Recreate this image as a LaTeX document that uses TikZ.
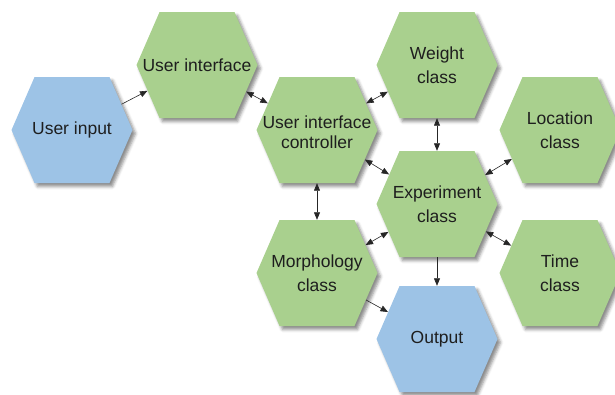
\documentclass[tikz,border=0pt]{standalone}
\usepackage{fontspec}
\setmainfont{Liberation Sans}
\usetikzlibrary{shapes.symbols,arrows.meta,shadows.blur}

\definecolor{hexgreen}{HTML}{A9D08E}
\definecolor{hexblue}{HTML}{9DC3E6}
\definecolor{inktext}{HTML}{1E1E1E}

\tikzset{
  hexbase/.style={shape=signal, signal to=east and west, signal pointer angle=133,
    minimum width=121pt, minimum height=106pt, inner sep=0pt, draw=none,
    blur shadow={shadow xshift=3pt, shadow yshift=-3.5pt, shadow blur radius=3pt, shadow opacity=45}},
  greenhex/.style={hexbase, fill=hexgreen},
  bluehex/.style={hexbase, fill=hexblue},
  hextext/.style={text=inktext, align=center, inner sep=0pt, font=\fontsize{17.5}{24.5}\selectfont},
  tighttext/.style={hextext, font=\fontsize{17.5}{19.5}\selectfont},
  tip/.tip={Triangle[length=7.5pt,width=6pt]},
  biarrow/.style={line width=0.6pt, draw=black!85, tip-tip},
  onearrow/.style={line width=0.6pt, draw=black!85, -tip}
}

\begin{document}
\begin{tikzpicture}[x=1pt, y=-1pt]
  \useasboundingbox (0,0) rectangle (615,394);
  \clip (0,0) rectangle (615,394);

  % hexagonal blocks
  \node[bluehex]  (uin)  at (72,130)  {};
  \node[greenhex] (ui)   at (197,65)  {};
  \node[greenhex] (uic)  at (317,130) {};
  \node[greenhex] (wt)   at (437,65)  {};
  \node[greenhex] (loc)  at (560,130) {};
  \node[greenhex] (exp)  at (437,204) {};
  \node[greenhex] (mor)  at (317,273) {};
  \node[greenhex] (tim)  at (560,273) {};
  \node[bluehex]  (out)  at (437,339) {};

  % block captions
  \node[hextext]   (uin-t) at (uin) {User input};
  \node[hextext]   (ui-t)  at (ui)  {User interface};
  \node[tighttext] (uic-t) at ([yshift=-2pt]uic.center) {User interface\\controller};
  \node[hextext]   (wt-t)  at (wt)  {Weight\\class};
  \node[hextext]   (loc-t) at (loc) {Location\\class};
  \node[hextext]   (exp-t) at (exp) {Experiment\\class};
  \node[hextext]   (mor-t) at (mor) {Morphology\\class};
  \node[hextext]   (tim-t) at (tim) {Time\\class};
  \node[hextext]   (out-t) at (out) {Output};

  % connectors
  \draw[onearrow] (uin) -- (ui);
  \draw[biarrow]  (ui)  -- (uic);
  \draw[biarrow]  (uic) -- (wt);
  \draw[biarrow]  (wt)  -- (exp);
  \draw[biarrow]  (uic) -- (exp);
  \draw[biarrow]  (exp) -- (loc);
  \draw[biarrow]  (uic) -- (mor);
  \draw[biarrow]  (mor) -- (exp);
  \draw[biarrow]  (exp) -- (tim);
  \draw[onearrow] (exp) -- (out);
  \draw[onearrow] (mor) -- (out);
\end{tikzpicture}
\end{document}
